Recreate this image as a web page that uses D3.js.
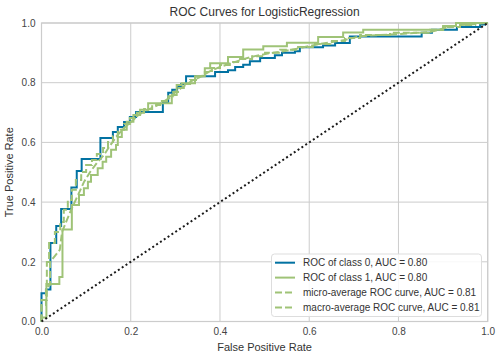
<!DOCTYPE html>
<html><head><meta charset="utf-8">
<script src="https://cdn.jsdelivr.net/npm/d3@7"></script>
<style>body{margin:0;background:#fff}svg{display:block;font-family:"Liberation Sans",Arial,sans-serif}</style>
</head><body><svg id="c" width="503" height="361"></svg>
<script>
const title = "ROC Curves for LogisticRegression";
const xLabel = "False Positive Rate";
const yLabel = "True Positive Rate";
const ticks = [0, 0.2, 0.4, 0.6, 0.8, 1.0];
const tickLabels = ["0.0","0.2","0.4","0.6","0.8","1.0"];
const seriesNames = ["ROC of class 0, AUC = 0.80","ROC of class 1, AUC = 0.80","micro-average ROC curve, AUC = 0.81","macro-average ROC curve, AUC = 0.81"];
const colors = ["#0272a2","#9fc377","#9fc377","#9fc377"];

const class0 = [[0,0],[0,0.095],[0.010,0.095],[0.010,0.107],[0.020,0.107],[0.020,0.263],[0.033,0.263],[0.033,0.320],[0.044,0.320],[0.044,0.377],[0.067,0.377],[0.067,0.449],[0.079,0.449],[0.079,0.504],[0.090,0.504],[0.090,0.544],[0.132,0.544],[0.132,0.615],[0.160,0.615],[0.160,0.635],[0.171,0.635],[0.171,0.652],[0.185,0.652],[0.185,0.668],[0.198,0.668],[0.198,0.685],[0.212,0.685],[0.212,0.702],[0.272,0.702],[0.272,0.732],[0.284,0.732],[0.284,0.766],[0.293,0.766],[0.293,0.776],[0.304,0.776],[0.304,0.786],[0.313,0.786],[0.313,0.796],[0.324,0.796],[0.324,0.822],[0.389,0.822],[0.389,0.836],[0.418,0.836],[0.418,0.842],[0.434,0.842],[0.434,0.853],[0.452,0.853],[0.452,0.860],[0.467,0.860],[0.467,0.872],[0.490,0.872],[0.490,0.883],[0.523,0.883],[0.523,0.892],[0.539,0.892],[0.539,0.900],[0.568,0.900],[0.568,0.905],[0.579,0.905],[0.579,0.919],[0.631,0.919],[0.631,0.925],[0.658,0.925],[0.658,0.933],[0.691,0.933],[0.691,0.955],[0.852,0.955],[0.852,0.967],[0.875,0.967],[0.875,0.977],[0.931,0.977],[0.931,0.987],[0.983,0.987],[0.983,0.995],[0.994,0.995],[0.994,1],[1,1]];

const class1 = [[0,0],[0,0.013],[0.011,0.013],[0.011,0.126],[0.040,0.126],[0.040,0.149],[0.047,0.149],[0.047,0.308],[0.068,0.308],[0.068,0.390],[0.084,0.390],[0.084,0.424],[0.095,0.424],[0.095,0.446],[0.104,0.446],[0.104,0.468],[0.111,0.468],[0.111,0.491],[0.126,0.491],[0.126,0.513],[0.137,0.513],[0.137,0.535],[0.145,0.535],[0.145,0.552],[0.156,0.552],[0.156,0.575],[0.167,0.575],[0.167,0.591],[0.171,0.591],[0.171,0.618],[0.180,0.618],[0.180,0.642],[0.191,0.642],[0.191,0.669],[0.206,0.669],[0.206,0.692],[0.221,0.692],[0.221,0.709],[0.239,0.709],[0.239,0.731],[0.292,0.731],[0.292,0.759],[0.303,0.759],[0.303,0.792],[0.314,0.792],[0.314,0.798],[0.344,0.798],[0.344,0.822],[0.366,0.822],[0.366,0.848],[0.378,0.848],[0.378,0.865],[0.418,0.865],[0.418,0.886],[0.452,0.886],[0.452,0.911],[0.497,0.911],[0.497,0.922],[0.550,0.922],[0.550,0.934],[0.620,0.934],[0.620,0.953],[0.676,0.953],[0.676,0.968],[0.721,0.968],[0.721,0.977],[0.900,0.977],[0.900,0.990],[0.929,0.990],[0.929,1],[1,1]];

const micro = [[0,0],[0,0.072],[0.012,0.072],[0.012,0.199],[0.017,0.199],[0.017,0.263],[0.030,0.263],[0.030,0.300],[0.042,0.300],[0.042,0.333],[0.050,0.333],[0.050,0.374],[0.059,0.374],[0.059,0.407],[0.068,0.407],[0.068,0.441],[0.077,0.441],[0.077,0.474],[0.089,0.474],[0.089,0.501],[0.100,0.501],[0.100,0.524],[0.113,0.524],[0.113,0.541],[0.124,0.541],[0.124,0.561],[0.138,0.561],[0.138,0.581],[0.149,0.581],[0.149,0.601],[0.160,0.601],[0.160,0.621],[0.171,0.621],[0.171,0.642],[0.185,0.642],[0.185,0.662],[0.198,0.662],[0.198,0.682],[0.214,0.682],[0.214,0.699],[0.230,0.699],[0.230,0.712],[0.248,0.712],[0.248,0.725],[0.266,0.725],[0.266,0.739],[0.284,0.739],[0.284,0.755],[0.295,0.755],[0.295,0.769],[0.306,0.769],[0.306,0.782],[0.319,0.782],[0.319,0.796],[0.333,0.796],[0.333,0.809],[0.349,0.809],[0.349,0.822],[0.366,0.822],[0.366,0.836],[0.382,0.836],[0.382,0.849],[0.400,0.849],[0.400,0.859],[0.422,0.859],[0.422,0.869],[0.445,0.869],[0.445,0.879],[0.472,0.879],[0.472,0.889],[0.501,0.889],[0.501,0.900],[0.535,0.900],[0.535,0.910],[0.575,0.910],[0.575,0.920],[0.613,0.920],[0.613,0.930],[0.647,0.930],[0.647,0.940],[0.680,0.940],[0.680,0.950],[0.714,0.950],[0.714,0.960],[0.781,0.960],[0.781,0.967],[0.871,0.967],[0.871,0.977],[0.900,0.977],[0.900,0.987],[0.938,0.987],[0.938,0.993],[0.972,0.993],[0.972,1],[1,1]];

const macro = [[0,0],[0,0.055],[0.010,0.055],[0.010,0.112],[0.019,0.122],[0.019,0.199],[0.032,0.223],[0.041,0.240],[0.046,0.300],[0.055,0.333],[0.068,0.380],[0.082,0.424],[0.095,0.467],[0.109,0.501],[0.124,0.531],[0.140,0.558],[0.153,0.588],[0.169,0.622],[0.185,0.648],[0.203,0.672],[0.221,0.696],[0.243,0.712],[0.266,0.729],[0.288,0.750],[0.301,0.770],[0.317,0.786],[0.337,0.806],[0.355,0.819],[0.378,0.839],[0.400,0.853],[0.427,0.866],[0.452,0.879],[0.478,0.889],[0.512,0.899],[0.546,0.906],[0.579,0.916],[0.624,0.930],[0.680,0.943],[0.714,0.956],[0.803,0.963],[0.871,0.970],[0.904,0.983],[0.938,0.993],[0.983,0.998],[1,1]];

const diagonal = [[0,0],[1,1]];

const svg = d3.select("#c");
const L = 41.5, R = 487.7, T = 23, B = 321.5;
const x = d3.scaleLinear().domain([0,1]).range([L,R]);
const y = d3.scaleLinear().domain([0,1]).range([B,T]);

// grid
const g = svg.append("g");
g.selectAll(".vx").data(ticks).enter().append("line")
  .attr("x1",d=>x(d)).attr("x2",d=>x(d)).attr("y1",T).attr("y2",B)
  .attr("stroke","#cccccc").attr("stroke-width",1);
g.selectAll(".hy").data(ticks).enter().append("line")
  .attr("y1",d=>y(d)).attr("y2",d=>y(d)).attr("x1",L).attr("x2",R)
  .attr("stroke","#cccccc").attr("stroke-width",1);

// axes (labels only)
const xAxis = d3.axisBottom(x).tickValues(ticks).tickFormat((d,i)=>tickLabels[i]).tickSize(0).tickPadding(6);
const yAxis = d3.axisLeft(y).tickValues(ticks).tickFormat((d,i)=>tickLabels[i]).tickSize(0).tickPadding(6);
const gx = svg.append("g").attr("transform",`translate(0,${B})`).call(xAxis);
const gy = svg.append("g").attr("transform",`translate(${L},0)`).call(yAxis);
[gx,gy].forEach(a=>{a.select(".domain").remove();a.selectAll("text").attr("font-size",10).attr("fill","#444").attr("font-family","Liberation Sans, Arial, sans-serif");});

// border
svg.append("rect").attr("x",L).attr("y",T).attr("width",R-L).attr("height",B-T)
  .attr("fill","none").attr("stroke","#cccccc").attr("stroke-width",1.2);

const line = d3.line().x(d=>x(d[0])).y(d=>y(d[1]));
const clip = svg.append("defs").append("clipPath").attr("id","cp").append("rect")
  .attr("x",L-2).attr("y",T-2).attr("width",R-L+4).attr("height",B-T+4);
const plot = svg.append("g").attr("clip-path","url(#cp)");

const data = [class0, class1, micro, macro];
const dashes = [null, null, "7,3", "7,3"];
data.forEach((s,i)=>{
  plot.append("path").datum(s).attr("d",line).attr("fill","none")
    .attr("stroke",colors[i]).attr("stroke-width",2)
    .attr("stroke-dasharray",dashes[i]);
});
plot.append("path").datum(diagonal).attr("d",line).attr("fill","none")
  .attr("stroke","#1a1a1a").attr("stroke-width",2).attr("stroke-dasharray","2,2.6");

// title and labels
svg.append("text").attr("x",(L+R)/2).attr("y",16).attr("text-anchor","middle")
  .attr("font-size",12).attr("fill","#333").text(title);
svg.append("text").attr("x",(L+R)/2).attr("y",351).attr("text-anchor","middle")
  .attr("font-size",11).attr("fill","#333").text(xLabel);
svg.append("text").attr("transform",`translate(13,${(T+B)/2}) rotate(-90)`).attr("text-anchor","middle")
  .attr("font-size",11).attr("fill","#333").text(yLabel);

// legend
const lg = svg.append("g");
lg.append("rect").attr("x",271.5).attr("y",254).attr("width",210).attr("height",62.5)
  .attr("rx",3).attr("fill","#fff").attr("fill-opacity",0.85).attr("stroke","#dddddd");
seriesNames.forEach((n,i)=>{
  const yy = 262.7 + i*14.9;
  lg.append("line").attr("x1",275).attr("x2",295).attr("y1",yy).attr("y2",yy)
    .attr("stroke",colors[i]).attr("stroke-width",2).attr("stroke-dasharray",dashes[i]);
  lg.append("text").attr("x",303).attr("y",yy+3.6).attr("font-size",10).attr("fill","#333").text(n);
});
</script></body></html>
